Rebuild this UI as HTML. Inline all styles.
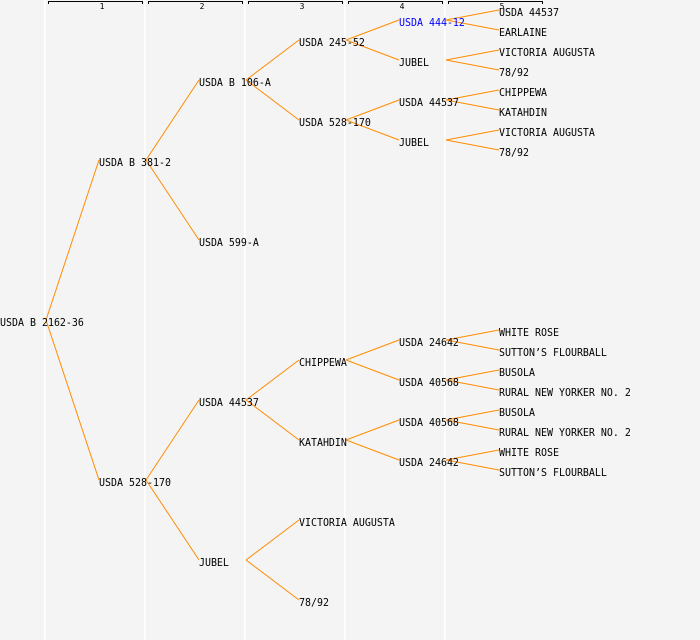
<!DOCTYPE html>
<html><head><meta charset="utf-8"><style>
html,body{margin:0;padding:0;background:#f4f4f4;}
svg{display:block;}
text{font-family:"DejaVu Sans Mono","Liberation Mono",monospace;font-size:11px;fill:#000;}
.n{font-size:8px;}
</style></head><body>
<svg width="700" height="640" viewBox="0 0 700 640" xmlns="http://www.w3.org/2000/svg">
<rect width="700" height="640" fill="#f4f4f4"/>
<g fill="#ffffff">
<rect x="44" y="0" width="1.5" height="640"/>
<rect x="144" y="0" width="1.5" height="640"/>
<rect x="244" y="0" width="1.5" height="640"/>
<rect x="344" y="0" width="1.5" height="640"/>
<rect x="444" y="0" width="1.5" height="640"/>
</g>
<g stroke="#000" stroke-width="1" fill="none">
<path d="M48.5 4V1.5H142.5V4"/>
<path d="M148.5 4V1.5H242.5V4"/>
<path d="M248.5 4V1.5H342.5V4"/>
<path d="M348.5 4V1.5H442.5V4"/>
<path d="M448.5 4V1.5H542.5V4"/>
</g>
<g text-anchor="middle">
<text class="n" x="102" y="9">1</text>
<text class="n" x="202" y="9">2</text>
<text class="n" x="302" y="9">3</text>
<text class="n" x="402" y="9">4</text>
<text class="n" x="502" y="9">5</text>
</g>
<g stroke="#ff8c00" stroke-width="1" fill="none">
<path d="M46 320L99 160M46 320L99 480"/>
<path d="M146 160L199 80M146 160L199 240"/>
<path d="M146 480L199 400M146 480L199 560"/>
<path d="M246 80L299 40M246 80L299 120"/>
<path d="M246 400L299 360M246 400L299 440"/>
<path d="M246 560L299 520M246 560L299 600"/>
<path d="M346 40L399 20M346 40L399 60"/>
<path d="M346 120L399 100M346 120L399 140"/>
<path d="M346 360L399 340M346 360L399 380"/>
<path d="M346 440L399 420M346 440L399 460"/>
<path d="M446 20L499 10M446 20L499 30"/>
<path d="M446 60L499 50M446 60L499 70"/>
<path d="M446 100L499 90M446 100L499 110"/>
<path d="M446 140L499 130M446 140L499 150"/>
<path d="M446 340L499 330M446 340L499 350"/>
<path d="M446 380L499 370M446 380L499 390"/>
<path d="M446 420L499 410M446 420L499 430"/>
<path d="M446 460L499 450M446 460L499 470"/>
</g>
<g transform="scale(0.906,1)">
<text x="0" y="326">USDA B 2162-36</text>
<text x="109.3" y="166">USDA B 381-2</text>
<text x="109.3" y="486">USDA 528-170</text>
<text x="219.6" y="86">USDA B 106-A</text>
<text x="219.6" y="246">USDA 599-A</text>
<text x="219.6" y="406">USDA 44537</text>
<text x="219.6" y="566">JUBEL</text>
<text x="330" y="46">USDA 245-52</text>
<text x="330" y="126">USDA 528-170</text>
<text x="330" y="366">CHIPPEWA</text>
<text x="330" y="446">KATAHDIN</text>
<text x="330" y="526">VICTORIA AUGUSTA</text>
<text x="330" y="606">78/92</text>
<text x="440.4" y="26" style="fill:#0000ff">USDA 444-12</text>
<text x="440.4" y="66">JUBEL</text>
<text x="440.4" y="106">USDA 44537</text>
<text x="440.4" y="146">JUBEL</text>
<text x="440.4" y="346">USDA 24642</text>
<text x="440.4" y="386">USDA 40568</text>
<text x="440.4" y="426">USDA 40568</text>
<text x="440.4" y="466">USDA 24642</text>
<text x="550.8" y="16">USDA 44537</text>
<text x="550.8" y="36">EARLAINE</text>
<text x="550.8" y="56">VICTORIA AUGUSTA</text>
<text x="550.8" y="76">78/92</text>
<text x="550.8" y="96">CHIPPEWA</text>
<text x="550.8" y="116">KATAHDIN</text>
<text x="550.8" y="136">VICTORIA AUGUSTA</text>
<text x="550.8" y="156">78/92</text>
<text x="550.8" y="336">WHITE ROSE</text>
<text x="550.8" y="356">SUTTON’S FLOURBALL</text>
<text x="550.8" y="376">BUSOLA</text>
<text x="550.8" y="396">RURAL NEW YORKER NO. 2</text>
<text x="550.8" y="416">BUSOLA</text>
<text x="550.8" y="436">RURAL NEW YORKER NO. 2</text>
<text x="550.8" y="456">WHITE ROSE</text>
<text x="550.8" y="476">SUTTON’S FLOURBALL</text>
</g>
</svg>
</body></html>
